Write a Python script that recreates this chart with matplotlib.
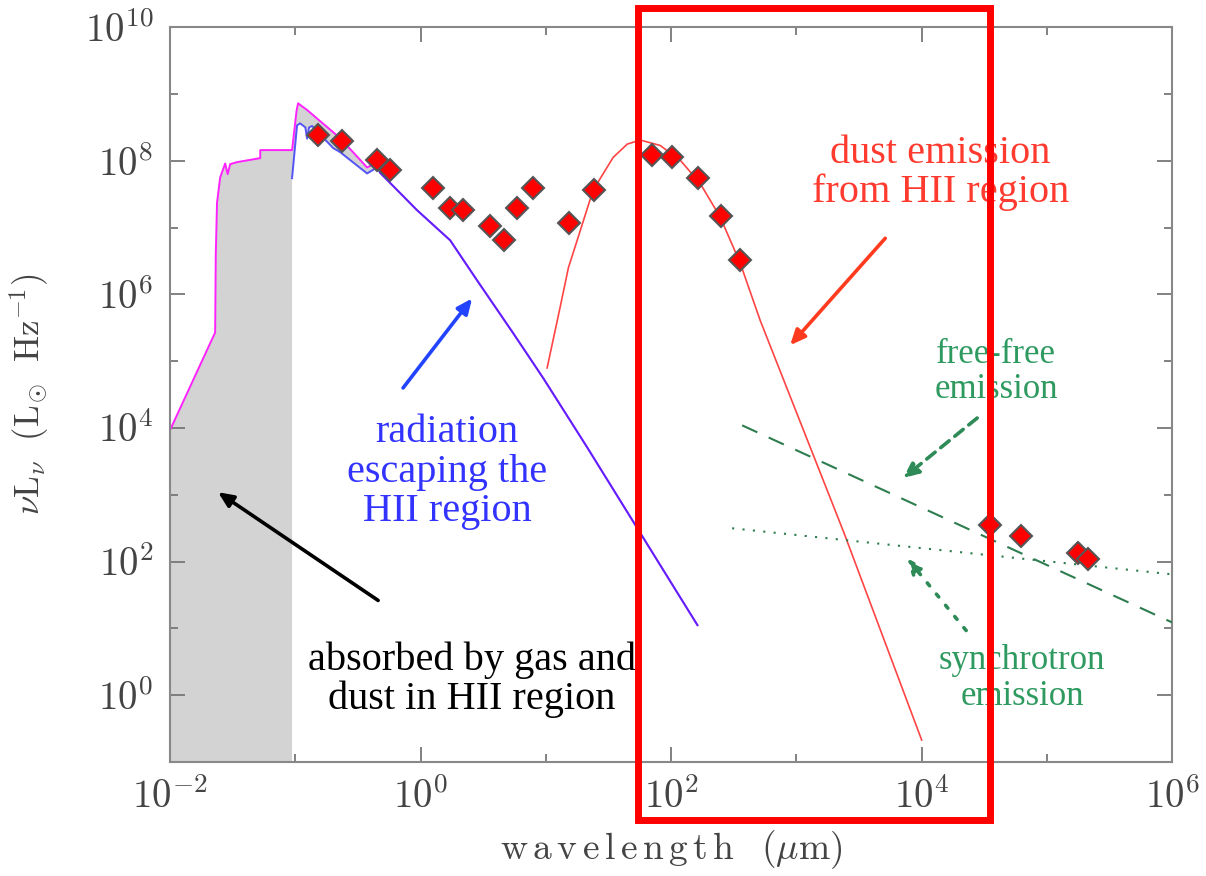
import numpy as np
import matplotlib.pyplot as plt
from matplotlib.patches import Rectangle

plt.rcParams['mathtext.fontset'] = 'cm'
plt.rcParams['font.family'] = ['Liberation Serif', 'DejaVu Serif']

# SED pieces (log10 wavelength in micron, log10 nu L_nu)
stellar_lwl = [-2.0, -1.64, -1.635, -1.625, -1.60, -1.56, -1.54, -1.52, -1.465, -1.28, -1.28,
               -1.04, -1.026, -0.99, -0.978, -0.906, -0.643, -0.427, -0.347,
               -0.323, -0.028, 0.236, 0.451, 0.739, 0.978, 1.33, 2.21]
stellar_llum = [3.97, 5.43, 6.6, 7.37, 7.75, 7.96, 7.80, 7.95, 7.98, 8.04, 8.16,
                8.16, 8.16, 8.75, 8.86, 8.76, 8.34, 7.90, 7.98,
                7.82, 7.26, 6.81, 6.21, 5.42, 4.75, 3.71, 1.05]

escaping_lwl = [-1.026, -0.986, -0.962, -0.92, -0.906, -0.89, -0.866, -0.698, -0.643,
                -0.427, -0.347, -0.323, -0.028, 0.236, 0.451, 0.739, 0.978, 1.33, 2.21]
escaping_llum = [7.74, 8.53, 8.56, 8.50, 8.33, 8.50, 8.52, 8.19, 8.13,
                 7.81, 7.90, 7.82, 7.26, 6.81, 6.21, 5.42, 4.75, 3.71, 1.05]

dust_lwl = [1.010, 1.114, 1.18, 1.250, 1.377, 1.537, 1.65, 1.753, 1.912, 2.072, 2.232,
            2.391, 2.551, 2.711, 3.38, 4.0]
dust_llum = [4.90, 5.81, 6.40, 6.81, 7.56, 8.05, 8.25, 8.31, 8.23, 8.01, 7.66,
             7.16, 6.47, 5.61, 2.43, -0.67]

freefree_lwl = [2.567, 6.0]
freefree_llum = [4.04, 1.09]
synch_lwl = [2.487, 6.0]
synch_llum = [2.50, 1.81]

obs_lwl = [-0.818, -0.627, -0.347, -0.244, 0.100, 0.236, 0.339, 0.555, 0.667, 0.770,
           0.898, 1.186, 1.385, 1.848, 2.008, 2.216, 2.399, 2.551,
           4.547, 4.794, 5.250, 5.329]
obs_llum = [8.38, 8.29, 8.01, 7.86, 7.59, 7.30, 7.26, 7.02, 6.81, 7.30,
            7.60, 7.07, 7.56, 8.08, 8.05, 7.74, 7.17, 6.51,
            2.55, 2.38, 2.13, 2.04]

ymin, ymax = 1e-1, 1e10

fig = plt.figure(figsize=(12.06, 8.76), dpi=100)
ax = fig.add_axes([0.141, 0.130, 0.831, 0.839])
ax.set_xscale('log')
ax.set_yscale('log')

sw, sl = 10**np.array(stellar_lwl), 10**np.array(stellar_llum)
ew, el = 10**np.array(escaping_lwl), 10**np.array(escaping_llum)

# absorbed part: under the intrinsic spectrum, above the escaping one
nmerge = stellar_lwl.index(-0.347) + 1
emerge = escaping_lwl.index(-0.347) + 1
poly_x = np.concatenate([sw[:nmerge], ew[:emerge][::-1], [ew[0], sw[0]]])
poly_y = np.concatenate([sl[:nmerge], el[:emerge][::-1], [ymin, ymin]])
ax.fill(poly_x, poly_y, color='#d3d3d3', lw=0, zorder=1)

ax.plot(sw, sl, color='#ff22ff', lw=1.4, zorder=2)
ax.plot(ew, el, color='#2222ff', lw=1.4, alpha=0.75, zorder=3)
ax.plot(10**np.array(dust_lwl), 10**np.array(dust_llum), color='#ff4444', lw=1.2, zorder=3)
ax.plot(10**np.array(freefree_lwl), 10**np.array(freefree_llum), color='#2e7d4f',
        lw=1.5, dashes=(8, 6), zorder=3)
ax.plot(10**np.array(synch_lwl), 10**np.array(synch_llum), color='#2e7d4f',
        lw=1.5, dashes=(1, 4), zorder=3)
ax.plot(10**np.array(obs_lwl), 10**np.array(obs_llum), 'D', color='red', ms=11,
        mec='#555555', mew=1.5, zorder=4)

ax.set_xlim(1e-2, 1e6)
ax.set_ylim(ymin, ymax)

ax.set_xticks([10.0**k for k in range(-2, 7, 2)])
ax.set_xticklabels([r'$10^{%d}$' % k for k in range(-2, 7, 2)])
ax.set_xticks([10.0**k for k in range(-1, 7, 2)], minor=True)
ax.set_yticks([10.0**k for k in range(0, 11, 2)])
ax.set_yticklabels([r'$10^{%d}$' % k for k in range(0, 11, 2)])
ax.set_yticks([10.0**k for k in range(-1, 10, 2)], minor=True)
ax.xaxis.set_minor_formatter(plt.NullFormatter())
ax.yaxis.set_minor_formatter(plt.NullFormatter())
ax.tick_params(which='both', direction='in', top=True, right=True, colors='#777777',
               labelcolor='#444444', labelsize=28, width=1.3)
ax.tick_params(which='major', length=11, pad=12)
ax.tick_params(which='minor', length=6)
for s in ax.spines.values():
    s.set_color('#888888')
    s.set_linewidth(1.5)

ax.set_xlabel(r'${\rm w\,a\,v\,e\,l\,e\,n\,g\,t\,h}\ \ \,(\mu{\rm m})$', fontsize=27,
              color='#444444', labelpad=8)
ax.set_ylabel(r'$\nu{\rm L}_\nu\ \ ({\rm L}_{\!\odot}\ \,{\rm Hz}^{-1})$', fontsize=25,
              color='#444444', labelpad=24)

def P(lx, ly):
    return (10**lx, 10**ly)

ax.text(*P(0.411, 0.239), 'absorbed by gas and\ndust in HII region', fontsize=29,
        ha='center', va='center', color='black', linespacing=1.05)
ax.text(*P(0.212, 3.34), 'radiation\nescaping the\nHII region', fontsize=29,
        ha='center', va='center', color='#3333ff', linespacing=1.1)
ax.text(*P(4.148, 7.81), 'dust emission\nfrom HII region', fontsize=29,
        ha='center', va='center', color='#ff3b2f', linespacing=1.05)
ax.text(*P(4.595, 4.84), 'free-free\nemission', fontsize=25,
        ha='center', va='center', color='#2e9a60', linespacing=1.1)
ax.text(*P(4.80, 0.254), 'synchrotron\nemission', fontsize=25,
        ha='center', va='center', color='#2e9a60', linespacing=1.1)

arrows = [
    (P(-1.617, 3.04), P(-0.339, 1.42), 'black', '-'),
    (P(0.411, 5.94), P(-0.140, 4.60), '#2244ff', '-'),
    (P(2.950, 5.24), P(3.709, 6.84), '#ff3b1f', '-'),
    (P(3.852, 3.25), P(4.443, 4.15), '#2e8b57', (0, (3, 2))),
    (P(3.884, 2.05), P(4.355, 0.97), '#2e8b57', (0, (1, 3))),
]
for head, tail, c, ls in arrows:
    ax.annotate('', xy=head, xytext=tail,
                arrowprops=dict(arrowstyle='-|>,head_length=0.9,head_width=0.4',
                                color=c, lw=2.6, linestyle=ls, shrinkA=0, shrinkB=0))

# highlight box drawn over the figure
fig.patches.append(Rectangle((0.529, 0.064), 0.292, 0.927, transform=fig.transFigure,
                             fill=False, edgecolor='red', lw=5, zorder=10))

fig.savefig('out.png', dpi=100)
